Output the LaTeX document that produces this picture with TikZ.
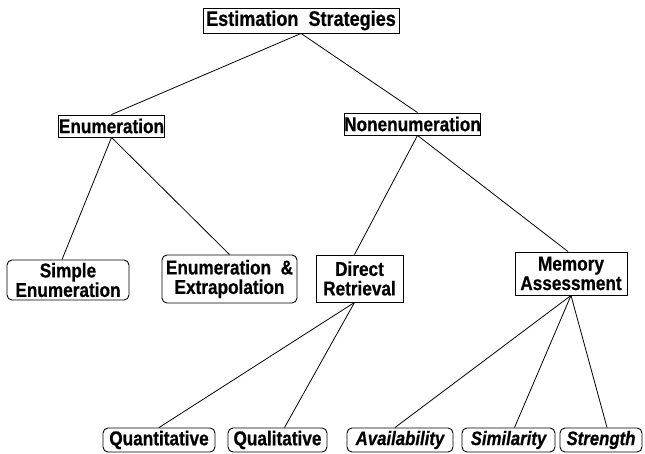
\documentclass[tikz,border=0pt]{standalone}
\usepackage{fontspec}
\setmainfont[FakeStretch=0.86,FakeBold=0.6]{Liberation Sans}
\begin{document}
\begin{tikzpicture}[x=1pt,y=-1pt,
  box/.style={draw, line width=0.9pt, inner sep=0pt, align=center,
    font=\fontsize{20}{19.5}\selectfont\bfseries},
  leaf/.style={box, rounded corners=5pt},
  ileaf/.style={leaf, font=\fontsize{19.5}{19}\selectfont\bfseries\itshape},
  link/.style={line width=0.8pt}]
\useasboundingbox (0,0) rectangle (645,453);
\node[box, minimum width=196pt, minimum height=25pt, font=\fontsize{21}{20}\selectfont\bfseries] (root) at (301,20.5) {Estimation\ \ Strategies};
\node[box, minimum width=105pt, minimum height=22pt] (enum) at (111.5,126) {Enumeration};
\node[box, minimum width=135pt, minimum height=22pt] (non) at (412.5,124) {Nonenumeration};
\node[leaf, minimum width=122pt, minimum height=40pt] (simple) at (68,280) {Simple\\Enumeration};
\node[leaf, minimum width=135pt, minimum height=48pt] (extrap) at (229.5,279) {Enumeration\ \ \&\\Extrapolation};
\node[box, minimum width=87pt, minimum height=47pt] (direct) at (359.5,278.5) {Direct\\Retrieval};
\node[box, minimum width=112pt, minimum height=43pt] (memory) at (571,273.5) {Memory\\Assessment};
\node[leaf, minimum width=112pt, minimum height=24pt] (quant) at (159,440) {Quantitative};
\node[leaf, minimum width=99pt, minimum height=24pt] (qual) at (277.5,440) {Qualitative};
\node[ileaf, minimum width=106pt, minimum height=24pt] (avail) at (400,440) {Availability};
\node[ileaf, minimum width=93pt, minimum height=24pt] (simil) at (508.5,440) {Similarity};
\node[ileaf, minimum width=82pt, minimum height=24pt] (streng) at (601,440) {Strength};
\draw[link] (root.south) -- (enum.north);
\draw[link] (root.south) -- ([xshift=5pt]non.north);
\draw[link] (enum.south) -- ([xshift=-6pt]simple.north);
\draw[link] (enum.south) -- (extrap.north);
\draw[link] ([xshift=5pt]non.south) -- ([xshift=-5pt]direct.north);
\draw[link] ([xshift=5pt]non.south) -- ([xshift=-3pt]memory.north);
\draw[link] ([xshift=-5pt]direct.south) -- (quant.north);
\draw[link] ([xshift=-5pt]direct.south) -- ([xshift=7pt]qual.north);
\draw[link] (memory.south) -- ([xshift=-5pt]avail.north);
\draw[link] (memory.south) -- ([xshift=6pt]simil.north);
\draw[link] (memory.south) -- ([xshift=6pt]streng.north);
\end{tikzpicture}
\end{document}
